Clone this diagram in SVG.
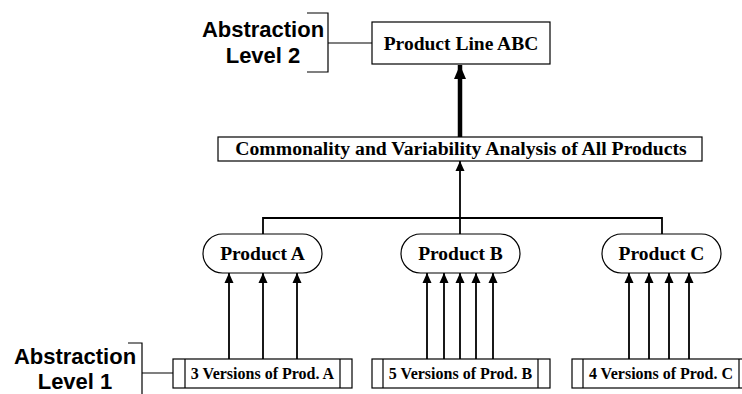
<svg xmlns="http://www.w3.org/2000/svg" width="742" height="394" viewBox="0 0 742 394">
  <style>
    .box { fill: #fff; stroke: #000; stroke-width: 1.2; }
    .serif { font-family: "Liberation Serif", "Times New Roman", serif; font-weight: bold; fill: #000; text-anchor: middle; }
    .sans { font-family: "Liberation Sans", Arial, sans-serif; font-weight: bold; font-size: 22px; fill: #000; text-anchor: middle; }
    .wire { fill: none; stroke: #000; stroke-width: 1.8; }
    .thick { fill: none; stroke: #000; stroke-width: 4.5; }
    .bracket { fill: none; stroke: #000; stroke-width: 1.2; }
  </style>
  <defs>
    <marker id="head" viewBox="0 0 10 12" refX="10" refY="6" markerWidth="10" markerHeight="12" markerUnits="userSpaceOnUse" orient="auto">
      <path d="M0,1.5 L10,6 L0,10.5 Z" fill="#000"/>
    </marker>
    <marker id="headBig" viewBox="0 0 14 14" refX="14" refY="7" markerWidth="14" markerHeight="14" markerUnits="userSpaceOnUse" orient="auto">
      <path d="M0,1 L14,7 L0,13 Z" fill="#000"/>
    </marker>
  </defs>

  <!-- abstraction level labels with brackets -->
  <g id="level2">
    <text class="sans" x="263" y="37">Abstraction</text>
    <text class="sans" x="263" y="63">Level 2</text>
    <path class="bracket" d="M307,13 H328 V72 H307 M328,43 H372"/>
  </g>
  <g id="level1">
    <text class="sans" x="75" y="364">Abstraction</text>
    <text class="sans" x="75" y="389">Level 1</text>
    <path class="bracket" d="M128,343 H142 V400 M142,373 H173"/>
  </g>

  <!-- connectors -->
  <g id="connectors">
    <path class="thick" d="M460,137 V65" marker-end="url(#headBig)"/>
    <path class="wire" d="M263,234 V218 H662 V234"/>
    <path class="wire" d="M460,234 V218"/>
    <path class="wire" d="M460,218 V161" marker-end="url(#head)"/>
    <!-- versions of A -->
    <path class="wire" d="M229,359 V273" marker-end="url(#head)"/>
    <path class="wire" d="M263,359 V273" marker-end="url(#head)"/>
    <path class="wire" d="M297,359 V273" marker-end="url(#head)"/>
    <!-- versions of B -->
    <path class="wire" d="M427,359 V273" marker-end="url(#head)"/>
    <path class="wire" d="M444,359 V273" marker-end="url(#head)"/>
    <path class="wire" d="M460,359 V273" marker-end="url(#head)"/>
    <path class="wire" d="M476,359 V273" marker-end="url(#head)"/>
    <path class="wire" d="M493,359 V273" marker-end="url(#head)"/>
    <!-- versions of C -->
    <path class="wire" d="M629,359 V273" marker-end="url(#head)"/>
    <path class="wire" d="M649,359 V273" marker-end="url(#head)"/>
    <path class="wire" d="M669,359 V273" marker-end="url(#head)"/>
    <path class="wire" d="M689,359 V273" marker-end="url(#head)"/>
  </g>

  <g id="product-line">
    <rect class="box" x="372" y="22" width="178" height="42"/>
    <text class="serif" x="461" y="50" font-size="19.5">Product Line ABC</text>
  </g>

  <g id="analysis">
    <rect class="box" x="218" y="137" width="484" height="24"/>
    <text class="serif" x="461" y="155" font-size="19.7">Commonality and Variability Analysis of All Products</text>
  </g>

  <g id="product-a">
    <rect class="box" x="203" y="234" width="119" height="39" rx="19.5" ry="19.5"/>
    <text class="serif" x="262.5" y="260" font-size="19.5">Product A</text>
  </g>
  <g id="product-b">
    <rect class="box" x="401" y="234" width="119" height="39" rx="19.5" ry="19.5"/>
    <text class="serif" x="460.5" y="260" font-size="19.5">Product B</text>
  </g>
  <g id="product-c">
    <rect class="box" x="602" y="234" width="119" height="39" rx="19.5" ry="19.5"/>
    <text class="serif" x="661.5" y="260" font-size="19.5">Product C</text>
  </g>

  <g id="versions-a">
    <rect class="box" x="173" y="359" width="179" height="29"/>
    <path class="bracket" d="M185,359 V388 M340,359 V388"/>
    <text class="serif" x="262.5" y="379" font-size="16">3 Versions of Prod. A</text>
  </g>
  <g id="versions-b">
    <rect class="box" x="372" y="359" width="178" height="29"/>
    <path class="bracket" d="M383,359 V388 M538,359 V388"/>
    <text class="serif" x="460.5" y="379" font-size="16">5 Versions of Prod. B</text>
  </g>
  <g id="versions-c">
    <rect class="box" x="572" y="359" width="179" height="29"/>
    <path class="bracket" d="M583,359 V388 M739,359 V388"/>
    <text class="serif" x="661" y="379" font-size="16">4 Versions of Prod. C</text>
  </g>
</svg>
